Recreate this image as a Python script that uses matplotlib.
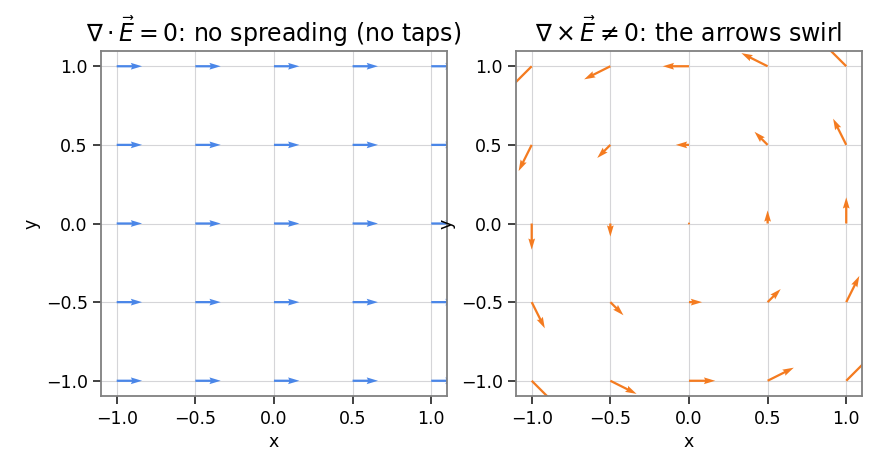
import numpy as np
import matplotlib.pyplot as plt

# grid of sample points
xs = [-1.0, -0.5, 0.0, 0.5, 1.0]
ys = [-1.0, -0.5, 0.0, 0.5, 1.0]

# left field: uniform, pointing right
left_u = 1.0
left_v = 0.0

blue = '#4a86e8'
orange = '#f47b20'

X, Y = np.meshgrid(xs, ys)
# right field: swirl E = (-y, x)
U_swirl = -Y
V_swirl = X

plt.rcParams['font.family'] = 'DejaVu Sans'

fig = plt.figure(figsize=(8.75, 4.7), dpi=100)
ax1 = fig.add_axes([0.1154, 0.1553, 0.3954, 0.7383])
ax2 = fig.add_axes([0.5897, 0.1553, 0.3954, 0.7383])

ax1.quiver(X, Y, np.full_like(X, left_u), np.full_like(Y, left_v), color=blue,
           angles='xy', scale_units='xy', scale=6.2, width=0.0065)
ax2.quiver(X, Y, U_swirl, V_swirl, color=orange,
           angles='xy', scale_units='xy', scale=6.0, width=0.0065)

titles = [r'$\nabla\cdot\vec{E}=0$: no spreading (no taps)',
          r'$\nabla\times\vec{E}\neq 0$: the arrows swirl']
for ax, t in zip([ax1, ax2], titles):
    ax.set_xlim(-1.1, 1.1)
    ax.set_ylim(-1.1, 1.1)
    ax.set_aspect('equal')
    ax.set_xticks(xs)
    ax.set_yticks(ys)
    ax.grid(True, color='#d5d5d8', linewidth=0.8)
    ax.set_axisbelow(True)
    for s in ax.spines.values():
        s.set_color('#808080')
        s.set_linewidth(1.3)
    ax.tick_params(direction='out', length=6, width=1.3, color='#333333',
                   labelsize=12.5)
    ax.set_xlabel('x', fontsize=12.5)
    ax.set_ylabel('y', fontsize=12.5)
    ax.set_title(t, fontsize=17)

fig.savefig('out.png', dpi=100)
